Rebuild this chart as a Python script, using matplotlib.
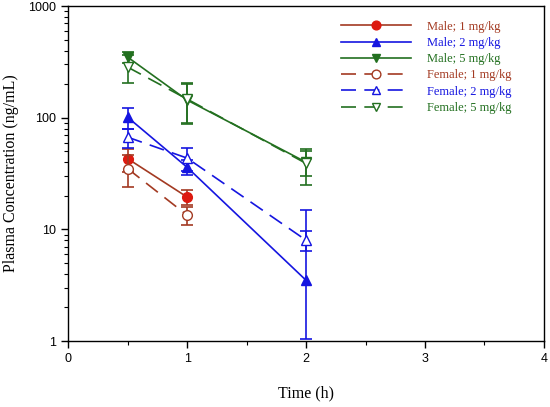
import numpy as np
import matplotlib.pyplot as plt
from matplotlib.ticker import MultipleLocator, LogLocator, NullFormatter, FixedLocator

# time points (h)
t = [0.5, 1, 2]

# mean plasma concentration (ng/mL) and SD
male_1 = [43, 19.5, np.nan]
male_1_sd = [10, 3, 0]
male_2 = [101, 36, 3.5]
male_2_lo = [21, 5.5, 2.45]
male_2_hi = [21, 5.5, 11.4]
male_5 = [349, 144, 40]
male_5_sd = [38, 56, 10]

female_1 = [35, 13.4, np.nan]
female_1_sd = [11, 2.5, 0]
female_2 = [67, 43.5, 8.0]
female_2_sd = [13, 10, 1.6]
female_5 = [284, 147, 39]
female_5_sd = [80, 58, 14]

c_red = '#a33a22'
c_redfill = '#dd1a10'
c_blue = '#1515e0'
c_green = '#237020'

plt.rcParams['font.family'] = 'Liberation Sans'

fig = plt.figure(figsize=(5.5, 4.07), dpi=100)
ax = fig.add_axes([0.124, 0.162, 0.865, 0.823])

dash = (0, (9, 5))
ekw = dict(fmt='none', capsize=4.3, elinewidth=1.2, capthick=1.2)
lkw = dict(markersize=7, lw=1.2)

series = [
    (male_1, male_1_sd, c_red, 'o', c_redfill, c_redfill, '-', 'Male; 1 mg/kg'),
    (male_2, [male_2_lo, male_2_hi], c_blue, '^', c_blue, c_blue, '-', 'Male; 2 mg/kg'),
    (male_5, male_5_sd, c_green, 'v', c_green, c_green, '-', 'Male; 5 mg/kg'),
    (female_1, female_1_sd, c_red, 'o', 'white', c_red, dash, 'Female; 1 mg/kg'),
    (female_2, female_2_sd, c_blue, '^', 'white', c_blue, dash, 'Female; 2 mg/kg'),
    (female_5, female_5_sd, c_green, 'v', 'white', c_green, dash, 'Female; 5 mg/kg'),
]
for y, err, col, m, fc, ec, ls, lab in series:
    ax.errorbar(t, y, yerr=err, ecolor=col, **ekw)
    ax.plot(t, y, color=col, ls=ls, marker=m, mfc=fc, mec=ec, label=lab, **lkw)

ax.set_yscale('log')
ax.set_xlim(0, 4)
ax.set_ylim(1, 1000)
ax.xaxis.set_major_locator(MultipleLocator(1))
ax.xaxis.set_minor_locator(MultipleLocator(0.5))
ax.yaxis.set_major_locator(FixedLocator([1, 10, 100, 1000]))
ax.set_yticklabels(['1', '10', '100', '1000'])
ax.yaxis.set_minor_locator(LogLocator(base=10, subs=np.arange(2, 10)))
ax.yaxis.set_minor_formatter(NullFormatter())
ax.tick_params(which='both', direction='out', labelsize=9, top=False, right=False)
ax.tick_params(which='major', length=5, width=1)
ax.tick_params(which='minor', length=3, width=0.8)
for s in ax.spines.values():
    s.set_linewidth(1)

ax.set_xlabel('Time (h)', family='Liberation Serif', fontsize=11.5, labelpad=15)
ax.set_ylabel('Plasma Concentration (ng/mL)', family='Liberation Serif', fontsize=11.5,
              labelpad=7)

leg = ax.legend(loc='upper right', bbox_to_anchor=(0.955, 0.99), frameon=False,
                prop={'family': 'Liberation Serif', 'size': 9}, handlelength=5.6,
                labelspacing=0.34, handletextpad=1.3, markerscale=0.9)
for txt, col in zip(leg.get_texts(), [c_red, c_blue, c_green, c_red, c_blue, c_green]):
    txt.set_color(col)

fig.savefig('out.png', dpi=100)
